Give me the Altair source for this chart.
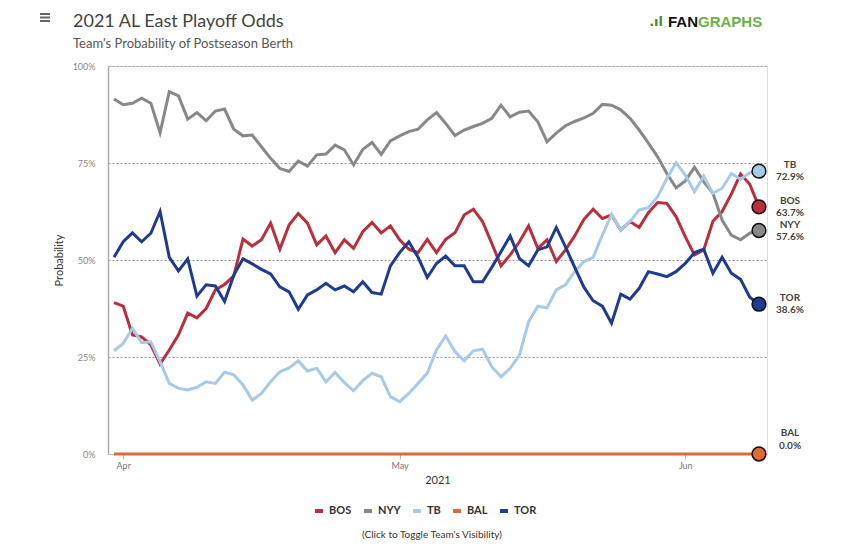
import altair as alt
import pandas as pd

teams = ["BOS", "NYY", "TB", "BAL", "TOR"]
colors = ["#bb2f3d", "#888888", "#a6cae8", "#df6a33", "#1e3c8f"]
start_date = "2021-03-31"
n_days = 71

bos = [39.0, 38.1, 30.7, 30.2, 28.1, 23.2, 26.8, 30.7, 36.3, 35.1, 37.5, 42.3, 43.7, 45.9, 55.4,
       53.6, 55.2, 59.5, 52.8, 59.0, 62.0, 59.5, 53.9, 56.2, 51.9, 55.2, 53.0, 57.3, 59.7, 57.0,
       58.8, 55.2, 52.8, 51.9, 55.3, 51.9, 55.3, 57.0, 61.6, 63.1, 59.9, 54.3, 48.5, 51.3, 54.7,
       58.8, 53.0, 55.2, 49.6, 52.6, 56.2, 60.5, 63.1, 60.7, 61.6, 57.7, 59.9, 58.4, 62.2, 64.8,
       64.6, 61.2, 56.0, 51.3, 52.6, 60.0, 62.5, 67.0, 72.2, 69.5, 63.7]
nyy = [91.5, 90.0, 90.4, 91.7, 90.4, 82.8, 93.4, 92.3, 86.3, 88.0, 85.9, 88.4, 88.9, 83.7, 82.0,
       82.2, 79.2, 76.2, 73.6, 72.8, 75.5, 74.2, 77.1, 77.3, 79.6, 78.4, 74.5, 78.5, 80.3, 77.2,
       80.7, 82.0, 83.1, 83.7, 86.1, 88.0, 85.2, 82.1, 83.5, 84.4, 85.2, 86.5, 89.9, 86.9, 88.1,
       88.4, 85.6, 80.5, 82.7, 84.6, 85.7, 86.6, 87.8, 90.1, 89.9, 88.7, 86.5, 83.5, 80.1, 76.6,
       72.3, 68.6, 70.4, 73.9, 70.2, 67.2, 60.3, 56.4, 55.2, 56.9, 57.6]
tb = [26.6, 28.5, 32.4, 28.7, 28.9, 23.8, 18.2, 16.9, 16.5, 17.2, 18.6, 18.2, 21.1, 20.4, 17.8,
      13.9, 15.6, 18.6, 21.2, 22.2, 24.0, 21.4, 22.1, 18.6, 21.0, 18.4, 16.3, 18.9, 20.8, 19.9,
      14.8, 13.5, 15.6, 18.2, 20.8, 26.8, 30.4, 26.4, 24.0, 26.6, 27.0, 22.5, 19.9, 22.1, 25.5,
      34.1, 38.1, 37.7, 42.3, 43.6, 47.0, 49.6, 50.7, 56.4, 61.8, 57.7, 59.9, 62.9, 63.5, 66.3,
      71.0, 75.1, 71.9, 67.6, 71.6, 67.2, 68.5, 72.3, 70.8, 72.5, 72.9]
bal = [0.0] * 71
tor = [50.7, 54.7, 57.0, 54.7, 56.9, 62.5, 50.7, 47.2, 50.3, 40.7, 43.6, 43.3, 39.3, 46.1, 50.3,
       49.0, 47.6, 46.4, 43.1, 41.8, 37.3, 41.0, 42.3, 44.0, 42.3, 43.3, 41.8, 44.4, 41.6, 41.2,
       48.5, 51.9, 54.7, 50.7, 45.5, 49.1, 51.0, 48.5, 48.5, 44.4, 44.4, 48.1, 52.1, 56.2, 50.4,
       48.5, 52.6, 53.4, 58.4, 53.4, 48.1, 43.0, 39.5, 38.1, 33.7, 41.2, 39.9, 42.7, 47.0, 46.4,
       45.7, 47.0, 49.1, 51.9, 52.8, 46.6, 50.7, 46.6, 45.0, 40.4, 38.6]

title_text = "2021 AL East Playoff Odds"
subtitle_text = "Team's Probability of Postseason Berth"
hint_text = "(Click to Toggle Team's Visibility)"

series = [bos, nyy, tb, bal, tor]
dates = [d.strftime("%Y-%m-%d") for d in pd.date_range(start_date, periods=n_days, freq="D")]

rows = []
for t, vals in zip(teams, series):
    for d, v in zip(dates, vals):
        rows.append({"team": t, "date": d, "p": v / 100.0})
df = pd.DataFrame(rows)

end = pd.DataFrame({
    "team": teams,
    "date": [dates[-1]] * len(teams),
    "p": [s[-1] / 100.0 for s in series],
    "pct": [f"{s[-1]:.1f}%" for s in series],
})

FONT = "Lato"

x_enc = alt.X(
    "date:T",
    scale=alt.Scale(
        type="utc",
        domain=[alt.DateTime(year=2021, month=3, date=30, hours=8, minutes=22, utc=True),
                alt.DateTime(year=2021, month=6, date=9, hours=20, minutes=53, utc=True)],
    ),
    axis=alt.Axis(
        values=[alt.DateTime(year=2021, month=4, date=1, utc=True),
                alt.DateTime(year=2021, month=5, date=1, utc=True),
                alt.DateTime(year=2021, month=6, date=1, utc=True)],
        format="%b", title="2021", grid=False,
        domainColor="#bbbbbb", tickColor="#bbbbbb", tickSize=5,
        labelFont=FONT, labelFontSize=9, labelColor="#777777", labelPadding=2,
        titleFont=FONT, titleFontSize=11, titleFontWeight="normal", titleColor="#333333",
        titlePadding=4,
    ),
)
y_enc = alt.Y(
    "p:Q",
    scale=alt.Scale(domain=[0, 1]),
    axis=alt.Axis(
        values=[0, 0.25, 0.5, 0.75, 1.0], format=".0%", title="Probability",
        grid=True, gridDash=[2, 2], gridColor="#999999", gridWidth=1,
        ticks=False, tickSize=0, domainColor="#aaaaaa", domainWidth=1.5,
        labelFont=FONT, labelFontSize=9, labelColor="#888888", labelPadding=13,
        titleFont=FONT, titleFontSize=11, titleFontWeight="normal", titleColor="#333333",
        titlePadding=8,
    ),
)

color_scale = alt.Scale(domain=teams, range=colors)

lines = alt.Chart(df).mark_line(strokeWidth=3).encode(
    x=x_enc, y=y_enc,
    color=alt.Color("team:N", scale=color_scale, sort=teams,
                    legend=alt.Legend(
                        title=None, orient="none", direction="horizontal",
                        legendX=205, legendY=439, gridAlign="none",
                        symbolType="stroke", symbolStrokeWidth=4, symbolSize=64,
                        labelFont=FONT, labelFontSize=11, labelFontWeight="bold",
                        labelColor="#333333", columnPadding=4, labelOffset=4,
                    )),
)

dots = alt.Chart(end).mark_circle(size=190, stroke="#111111", strokeWidth=1.5, opacity=1).encode(
    x="date:T", y="p:Q",
    fill=alt.Fill("team:N", scale=color_scale, legend=None),
)

lbl_style = dict(align="center", baseline="middle", font=FONT, fontSize=10,
                 fontWeight="bold", color="#444444", dx=31)
names_top = alt.Chart(end).transform_filter("datum.team != 'BAL'").mark_text(dy=-6, **lbl_style).encode(
    x="date:T", y="p:Q", text="team:N")
pcts_top = alt.Chart(end).transform_filter("datum.team != 'BAL'").mark_text(dy=6, **lbl_style).encode(
    x="date:T", y="p:Q", text="pct:N")
names_bal = alt.Chart(end).transform_filter("datum.team == 'BAL'").mark_text(dy=-21, **lbl_style).encode(
    x="date:T", y="p:Q", text="team:N")
pcts_bal = alt.Chart(end).transform_filter("datum.team == 'BAL'").mark_text(dy=-8, **lbl_style).encode(
    x="date:T", y="p:Q", text="pct:N")

one = pd.DataFrame({"k": [0]})
menu_bars = [
    alt.Chart(one).mark_rule(strokeWidth=2, color="#666666").encode(
        x=alt.value(-68), x2=alt.value(-58), y=alt.value(yy))
    for yy in (-52, -48.5, -45)
]
title_mark = alt.Chart(one).mark_text(text=title_text, font=FONT, fontSize=18, color="#444444",
                                      align="left", baseline="alphabetic").encode(
    x=alt.value(-35), y=alt.value(-39))
subtitle_mark = alt.Chart(one).mark_text(text=subtitle_text, font=FONT, fontSize=13, color="#555555",
                                         align="left", baseline="alphabetic").encode(
    x=alt.value(-35), y=alt.value(-18))
logo_fan = alt.Chart(one).mark_text(text="FAN", font="Liberation Sans", fontSize=15, fontWeight="bold",
                                    color="#111111", align="right", baseline="middle").encode(
    x=alt.value(590), y=alt.value(-44))
logo_graphs = alt.Chart(one).mark_text(text="GRAPHS", font="Liberation Sans", fontSize=15,
                                       fontWeight="bold", color="#6ab04c", align="left",
                                       baseline="middle").encode(
    x=alt.value(590), y=alt.value(-44))
logo_icon = alt.Chart(one).mark_text(text=".ıl", font="DejaVu Sans", fontSize=13, fontWeight="bold",
                                     color="#4a8a35", align="right", baseline="middle").encode(
    x=alt.value(555), y=alt.value(-44))
click = alt.Chart(one).mark_text(text=hint_text, font=FONT, fontSize=10,
                                 color="#333333", align="center", baseline="middle").encode(
    x=alt.value(324), y=alt.value(469))

chart = alt.layer(
    lines, dots, names_top, pcts_top, names_bal, pcts_bal,
    *menu_bars, title_mark, subtitle_mark, logo_icon, logo_fan, logo_graphs, click,
).properties(
    width=659, height=388,
    autosize=alt.AutoSizeParams(type="none"),
    padding={"left": 100, "top": 58, "right": 75, "bottom": 94},
).configure_view(stroke=None).configure(background="white")

chart.save("out.html", embed_options={"renderer": "svg", "actions": False})
